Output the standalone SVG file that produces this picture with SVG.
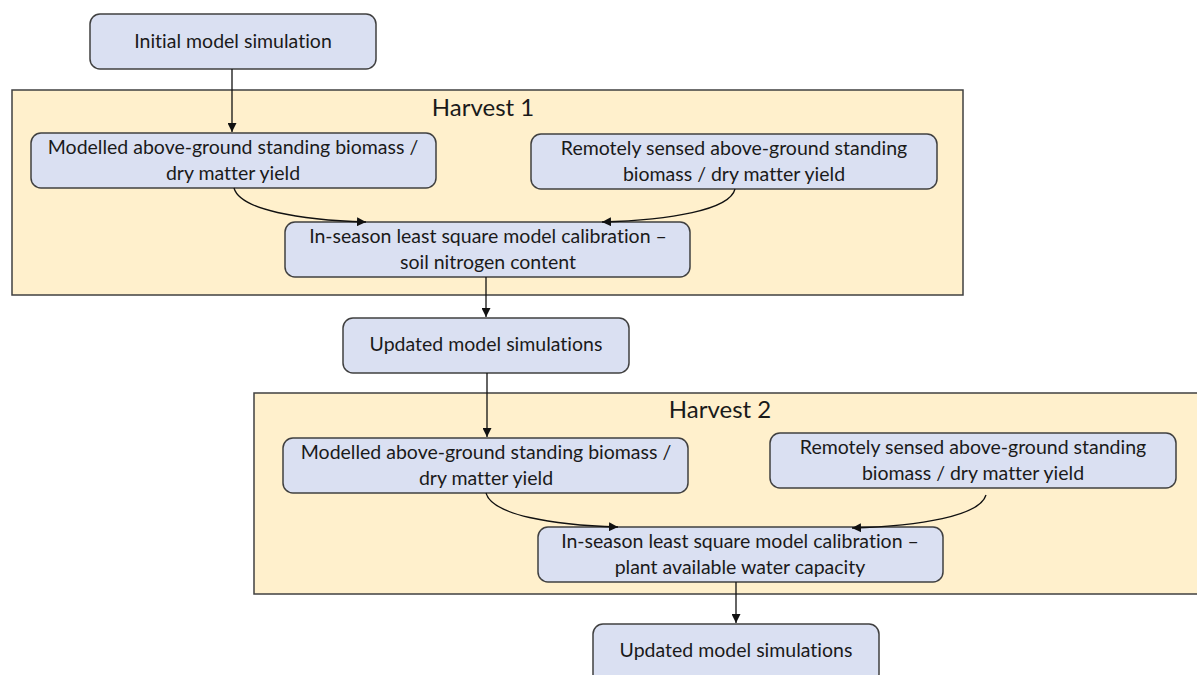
<svg xmlns="http://www.w3.org/2000/svg" width="1197" height="675" viewBox="0 0 1197 675">
<defs>
<style>
.grp{fill:#fff0cc;stroke:#404040;stroke-width:1.5}
.nd{fill:#dae0f2;stroke:#404040;stroke-width:1.5}
.t{font-family:Lato,"Open Sans",sans-serif;font-size:19.5px;fill:#1a1a1a;text-anchor:middle;font-variant-ligatures:none}
.h{font-family:Lato,"Open Sans",sans-serif;font-size:24px;fill:#1a1a1a;text-anchor:middle}
.c{fill:none;stroke:#111;stroke-width:1.3}
</style>
<marker id="ah" viewBox="0 0 10 10" refX="10" refY="5" markerWidth="9" markerHeight="9" markerUnits="userSpaceOnUse" orient="auto">
<path d="M0,0 L10,5 L0,10 z" fill="#111"/>
</marker>
</defs>
<rect width="1197" height="675" fill="#fff"/>
<g id="harvest1"><rect class="grp" x="12" y="90" width="951" height="205"/><text class="h" x="483" y="116">Harvest 1</text></g>
<g id="harvest2"><rect class="grp" x="254" y="393" width="950" height="201"/><text class="h" x="720" y="418">Harvest 2</text></g>
<g id="initial"><rect class="nd" x="90" y="14" width="286" height="55" rx="10"/><text class="t" x="233" y="48">Initial model simulation</text></g>
<g id="modelled1"><rect class="nd" x="31" y="133" width="405" height="55" rx="10"/><text class="t" x="233" y="154">Modelled above-ground standing biomass /</text><text class="t" x="233" y="180">dry matter yield</text></g>
<g id="remote1"><rect class="nd" x="531" y="134" width="406" height="55" rx="10"/><text class="t" x="734" y="155">Remotely sensed above-ground standing</text><text class="t" x="734" y="181">biomass / dry matter yield</text></g>
<g id="calib1"><rect class="nd" x="285" y="222" width="405" height="55" rx="10"/><text class="t" x="488" y="243">In-season least square model calibration –</text><text class="t" x="488" y="269">soil nitrogen content</text></g>
<g id="updated1"><rect class="nd" x="343" y="318" width="286" height="55" rx="10"/><text class="t" x="486" y="351">Updated model simulations</text></g>
<g id="modelled2"><rect class="nd" x="283" y="438" width="405" height="55" rx="10"/><text class="t" x="486" y="459">Modelled above-ground standing biomass /</text><text class="t" x="486" y="485">dry matter yield</text></g>
<g id="remote2"><rect class="nd" x="770" y="433" width="406" height="55" rx="10"/><text class="t" x="973" y="454">Remotely sensed above-ground standing</text><text class="t" x="973" y="480">biomass / dry matter yield</text></g>
<g id="calib2"><rect class="nd" x="538" y="527" width="405" height="55" rx="10"/><text class="t" x="740" y="548">In-season least square model calibration –</text><text class="t" x="740" y="574">plant available water capacity</text></g>
<g id="updated2"><rect class="nd" x="593" y="624" width="286" height="60" rx="10"/><text class="t" x="736" y="657">Updated model simulations</text></g>
<g id="connectors">
<path class="c" d="M232,69 V132" marker-end="url(#ah)"/>
<path class="c" d="M234,188 C240,210 300,220 366,222" marker-end="url(#ah)"/>
<path class="c" d="M735,189 C730,210 670,220 602,222" marker-end="url(#ah)"/>
<path class="c" d="M486,277 V317" marker-end="url(#ah)"/>
<path class="c" d="M487,373 V437" marker-end="url(#ah)"/>
<path class="c" d="M486,493 C492,515 552,525 618,527" marker-end="url(#ah)"/>
<path class="c" d="M986,495 C980,516 920,526 852,528" marker-end="url(#ah)"/>
<path class="c" d="M736,582 V623" marker-end="url(#ah)"/>
</g>
</svg>
